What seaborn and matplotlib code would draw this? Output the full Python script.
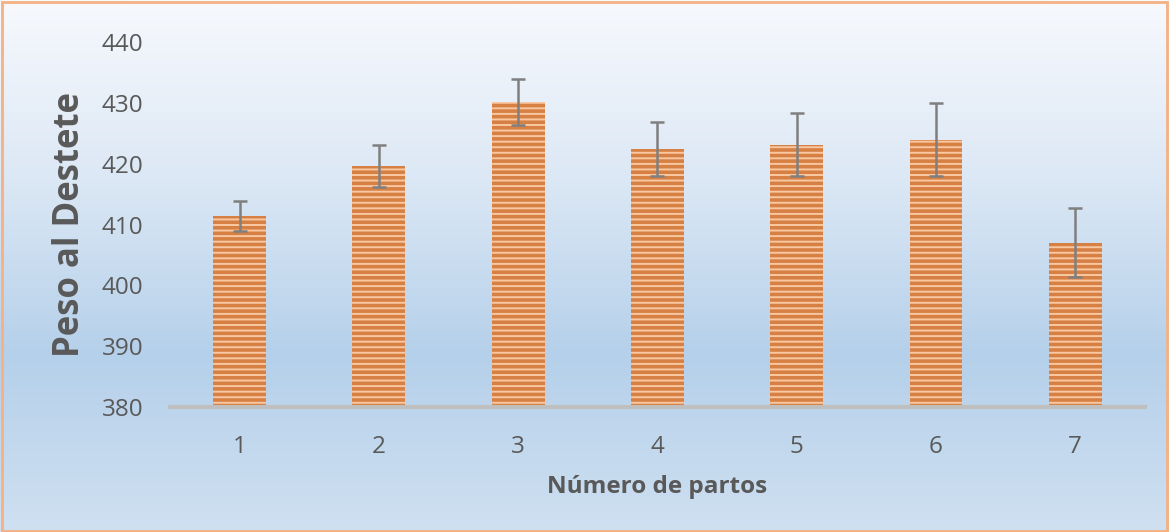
import numpy as np
import pandas as pd
import seaborn as sns
import matplotlib.pyplot as plt
from matplotlib.patches import Rectangle
from matplotlib.colors import LinearSegmentedColormap

# data
partos = ['1', '2', '3', '4', '5', '6', '7']
peso = [411.4, 419.6, 430.2, 422.4, 423.1, 423.9, 407.0]
error = [2.4, 3.4, 3.8, 4.4, 5.2, 6.0, 5.7]

df = pd.DataFrame({'partos': partos, 'peso': peso, 'error': error})

sns.set_theme(style='white')
plt.rcParams['font.family'] = ['Open Sans', 'DejaVu Sans']
plt.rcParams['hatch.linewidth'] = 1.4

fig = plt.figure(figsize=(11.69, 5.32), dpi=100)

# gradient background
bg = fig.add_axes([0, 0, 1, 1], zorder=-1)
grad = np.linspace(0, 1, 256).reshape(-1, 1)
cmap = LinearSegmentedColormap.from_list('bg', ['#f7f9fd', '#dce8f5', '#b5d0ea', '#cfe0f1'])
bg.imshow(grad, aspect='auto', cmap=cmap, extent=[0, 1, 0, 1])
bg.set_axis_off()
fig.patches.append(Rectangle((0.0015, 0.002), 0.997, 0.994, transform=fig.transFigure,
                             fill=False, edgecolor='#f4b183', linewidth=2))

ax = fig.add_axes([0.1454, 0.235, 0.834, 0.686])
ax.patch.set_alpha(0)
sns.barplot(data=df, x='partos', y='peso', ax=ax, color='#ee7b2c', width=0.38,
            errorbar=None, linewidth=0, edgecolor='#f9c8a2', hatch='---')
ax.errorbar(x=np.arange(len(partos)), y=df['peso'], yerr=df['error'], fmt='none',
            ecolor='#7f7f7f', elinewidth=1.8, capsize=5, capthick=1.8)

ax.set_ylim(380, 440)
ax.set_xlim(-0.5, 6.5)
ax.set_yticks([380, 390, 400, 410, 420, 430, 440])
for s in ['top', 'right', 'left']:
    ax.spines[s].set_visible(False)
ax.spines['bottom'].set_color('#bfbfbf')
ax.spines['bottom'].set_linewidth(3)
ax.tick_params(axis='both', length=0, labelsize=17.5, labelcolor='#595959')
ax.tick_params(axis='x', pad=20)
ax.tick_params(axis='y', pad=19)
ax.set_xlabel('Número de partos', fontsize=17.5, fontweight='bold', color='#595959', labelpad=12)
ax.set_ylabel('Peso al Destete', fontsize=25, fontweight='bold', color='#595959', labelpad=10)

fig.savefig('out.png', dpi=100)
